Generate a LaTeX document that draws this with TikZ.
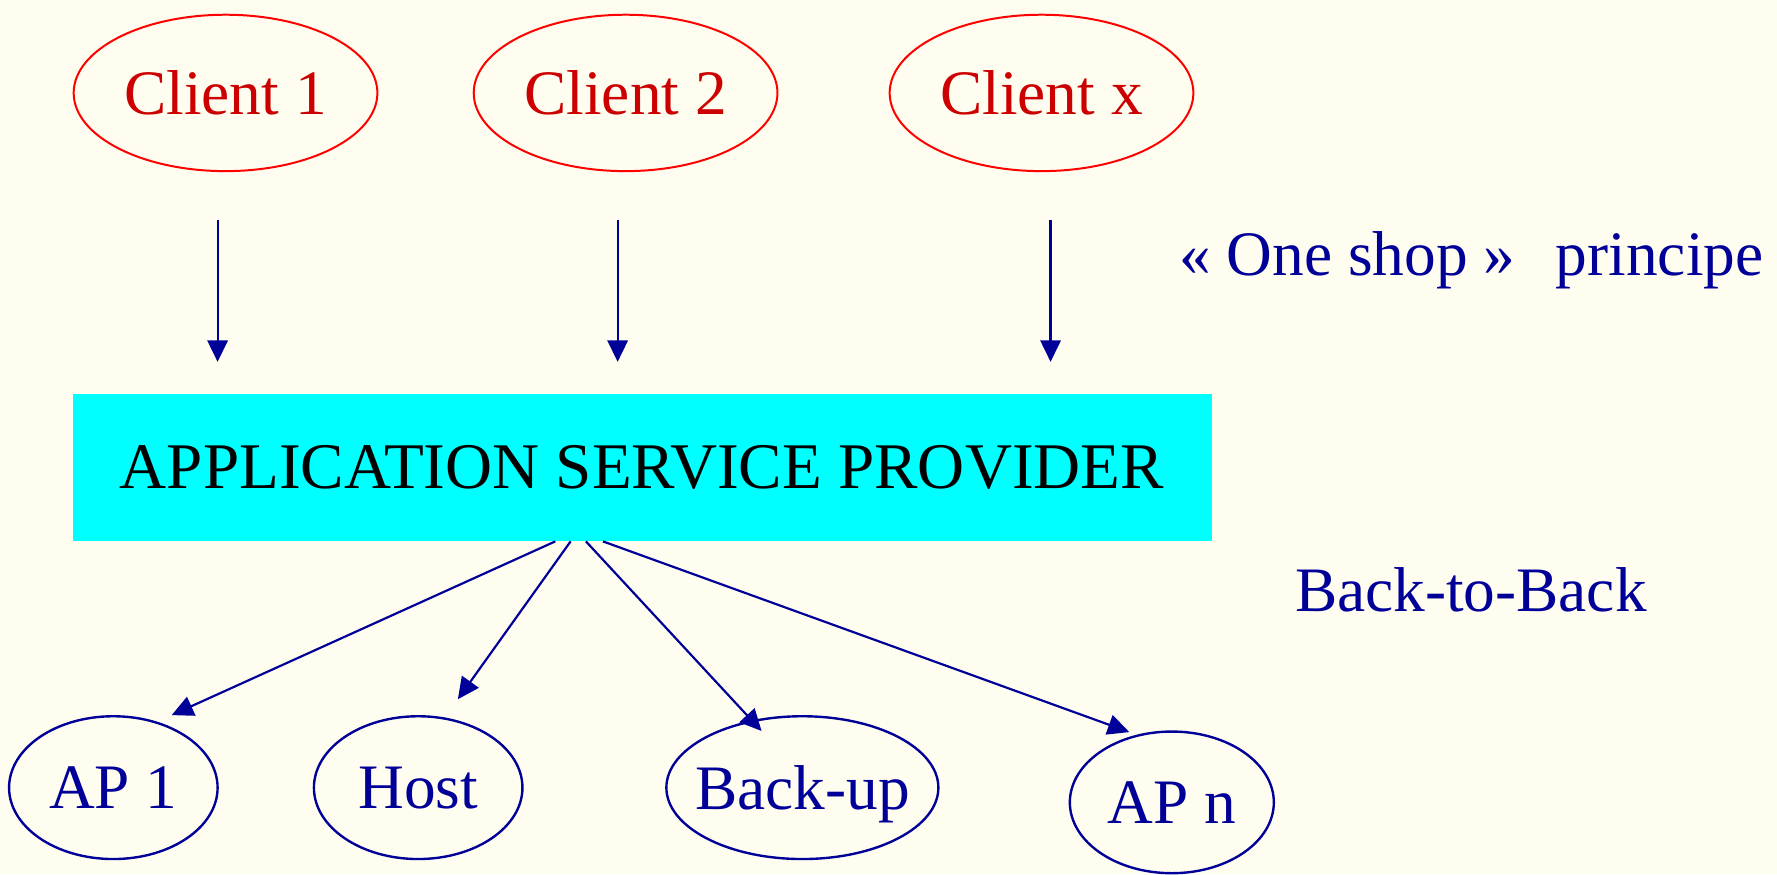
\documentclass[tikz,border=0pt]{standalone}
\usepackage{fontspec}
\setmainfont{Liberation Serif}
\usetikzlibrary{shapes.geometric}
\usetikzlibrary{arrows.meta}
\definecolor{bgcream}{RGB}{255,253,240}
\definecolor{navy}{RGB}{0,0,153}
\definecolor{clientred}{RGB}{204,0,0}
\definecolor{aspcyan}{RGB}{0,255,255}

\begin{document}
\begin{tikzpicture}[
    every node/.style={font=\fontsize{15.9}{19}\selectfont},
    client/.style={ellipse, draw=red, line width=0.5pt, text=clientred,
        minimum width=2.68cm, minimum height=1.38cm, inner xsep=-3mm, inner ysep=0pt},
    app/.style={ellipse, draw=navy, line width=0.6pt, text=navy,
        minimum height=1.26cm, inner xsep=-3mm, inner ysep=0pt},
    arr/.style={navy, line width=0.55pt, -{Triangle[length=0.19cm, width=0.18cm]}},
  ]
    % background
    \fill[bgcream] (0,0) rectangle (15.68,7.71);

    % clients
    \node[client] (c1) at (1.99,6.89) {Client 1};
    \node[client] (c2) at (5.52,6.89) {Client 2};
    \node[client] (cx) at (9.19,6.89) {Client x};

    % provider
    \node[fill=aspcyan, minimum width=10.05cm, minimum height=1.29cm, inner sep=0pt,
        font=\fontsize{16.35}{19}\selectfont]
        (asp) at (5.665,3.585) {APPLICATION SERVICE PROVIDER};

    % side texts
    \node[text=navy, anchor=base west, inner sep=0pt] (oneshop) at (10.40,5.28)
        {« One shop »\hspace{0.64em}principe};
    \node[text=navy, anchor=base west, inner sep=0pt] (b2b) at (11.42,2.31)
        {Back-to-Back};

    % applications
    \node[app, minimum width=1.84cm] (ap1) at (1.00,0.76) {AP 1};
    \node[app, minimum width=1.84cm] (host) at (3.69,0.76) {Host};
    \node[app, minimum width=2.40cm, text depth=0pt] (backup) at (7.08,0.76) {Back-up};
    \node[app, minimum width=1.80cm, minimum height=1.25cm] (apn) at (10.34,0.63) {AP n};

    % clients to provider
    \draw[arr, shorten <=4.2mm, shorten >=2.8mm]
        ([xshift=-0.7mm]c1.south) -- ([xshift=-0.7mm]c1.south |- asp.north);
    \draw[arr, shorten <=4.2mm, shorten >=2.8mm]
        ([xshift=-0.7mm]c2.south) -- ([xshift=-0.7mm]c2.south |- asp.north);
    \draw[arr, shorten <=4.2mm, shorten >=2.8mm]
        ([xshift=0.8mm]cx.south) -- ([xshift=0.8mm]cx.south |- asp.north);

    % provider to applications
    \draw[arr] ([xshift=-7.65mm]asp.south) -- ([xshift=5.15mm,yshift=6.4mm]ap1.center);
    \draw[arr] ([xshift=-6.3mm]asp.south) -- ([xshift=3.5mm,yshift=7.8mm]host.center);
    \draw[arr] ([xshift=-4.95mm]asp.south) -- ([xshift=-3.6mm,yshift=5.0mm]backup.center);
    \draw[arr] ([xshift=-3.45mm]asp.south) -- ([xshift=-3.75mm,yshift=6.2mm]apn.center);
\end{tikzpicture}
\end{document}
